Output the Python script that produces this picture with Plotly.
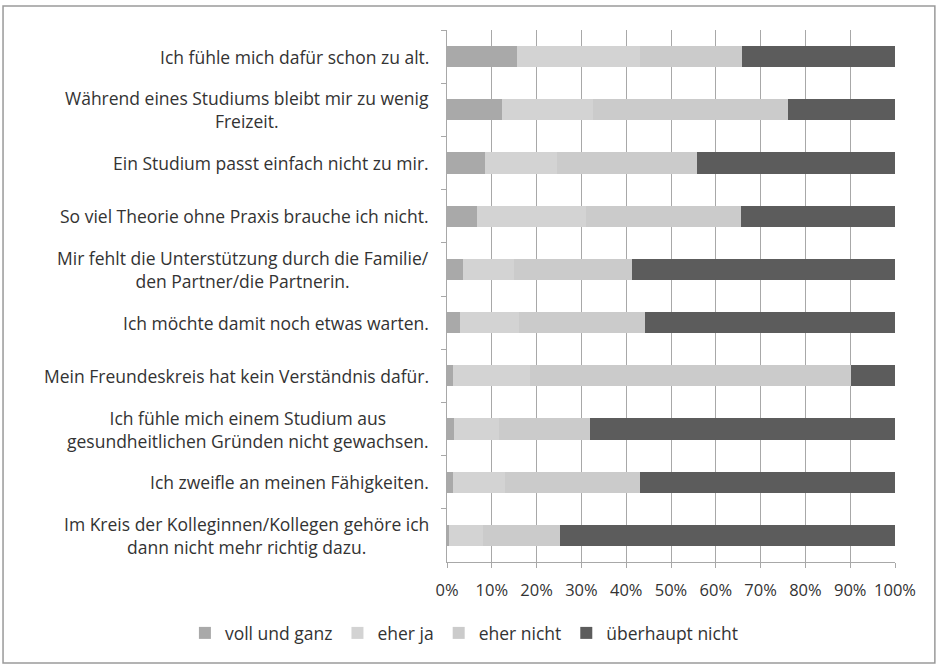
import plotly.graph_objects as go

categories = [
    "Ich fühle mich dafür schon zu alt.",
    "Während eines Studiums bleibt mir zu wenig<br>Freizeit.",
    "Ein Studium passt einfach nicht zu mir.",
    "So viel Theorie ohne Praxis brauche ich nicht.",
    "Mir fehlt die Unterstützung durch die Familie/<br>den Partner/die Partnerin.",
    "Ich möchte damit noch etwas warten.",
    "Mein Freundeskreis hat kein Verständnis dafür.",
    "Ich fühle mich einem Studium aus<br>gesundheitlichen Gründen nicht gewachsen.",
    "Ich zweifle an meinen Fähigkeiten.",
    "Im Kreis der Kolleginnen/Kollegen gehöre ich<br>dann nicht mehr richtig dazu.",
]

series_names = ["voll und ganz", "eher ja", "eher nicht", "überhaupt nicht"]
voll_und_ganz = [15.6, 12.2, 8.5, 6.7, 3.5, 2.8, 1.3, 1.6, 1.3, 0.5]
eher_ja = [27.4, 20.4, 16.1, 24.3, 11.5, 13.2, 17.3, 10.0, 11.7, 7.5]
eher_nicht = [22.9, 43.5, 31.1, 34.6, 26.3, 28.1, 71.5, 20.3, 30.1, 17.3]
ueberhaupt_nicht = [34.1, 23.9, 44.3, 34.4, 58.7, 55.9, 9.9, 68.1, 56.9, 74.7]

x_ticks = [0, 10, 20, 30, 40, 50, 60, 70, 80, 90, 100]
x_tick_labels = ["0%", "10%", "20%", "30%", "40%", "50%", "60%", "70%", "80%", "90%", "100%"]

colors = ["#a9a9a9", "#d3d3d3", "#cbcbcb", "#5c5c5c"]
values = [voll_und_ganz, eher_ja, eher_nicht, ueberhaupt_nicht]

FONT = "'Open Sans', sans-serif"
FS = 17.5
TXT = "#333333"

fig = go.Figure()
for name, vals, col in zip(series_names, values, colors):
    fig.add_trace(go.Bar(
        y=categories, x=vals, name=name, orientation="h",
        marker=dict(color=col, line=dict(width=0)),
    ))

annotations = []
for c in categories:
    annotations.append(dict(
        x=0, xref="paper", y=c, yref="y", text=c, showarrow=False,
        xanchor="right", yanchor="middle", align="center", xshift=-16,
        font=dict(family=FONT, size=FS, color=TXT),
    ))

fig.update_layout(
    barmode="stack",
    bargap=0.6,
    width=939, height=667,
    margin=dict(l=447, r=44, t=30, b=105),
    paper_bgcolor="white", plot_bgcolor="white",
    font=dict(family=FONT, size=FS, color=TXT),
    showlegend=True,
    legend=dict(
        orientation="h", xref="paper", yref="paper",
        x=-0.585, xanchor="left", y=-0.1335, yanchor="middle",
        font=dict(family=FONT, size=FS, color=TXT),
        traceorder="normal",
    ),
    annotations=annotations,
    shapes=[dict(
        type="rect", xref="paper", yref="paper",
        x0=-0.991, x1=1.089, y0=-0.19, y1=1.045,
        line=dict(color="#9a9a9a", width=1.5), fillcolor="rgba(0,0,0,0)",
        layer="below",
    )],
)

fig.update_xaxes(
    range=[0, 100], tickmode="array", tickvals=x_ticks, ticktext=x_tick_labels,
    showgrid=True, gridcolor="#a8a8a8", gridwidth=1,
    showline=True, linecolor="#a8a8a8", linewidth=1,
    ticks="outside", ticklen=5, tickcolor="#a8a8a8", ticklabelstandoff=8,
    zeroline=False, tickfont=dict(family=FONT, size=16.5, color=TXT),
)
fig.update_yaxes(
    autorange="reversed", showticklabels=False,
    showline=True, linecolor="#a8a8a8", linewidth=1,
    ticks="outside", ticklen=5, tickcolor="#a8a8a8", tickson="boundaries",
    showgrid=False,
)

fig.write_html("out.html", post_script="document.body.style.margin='0';",
               config={"displayModeBar": False})
